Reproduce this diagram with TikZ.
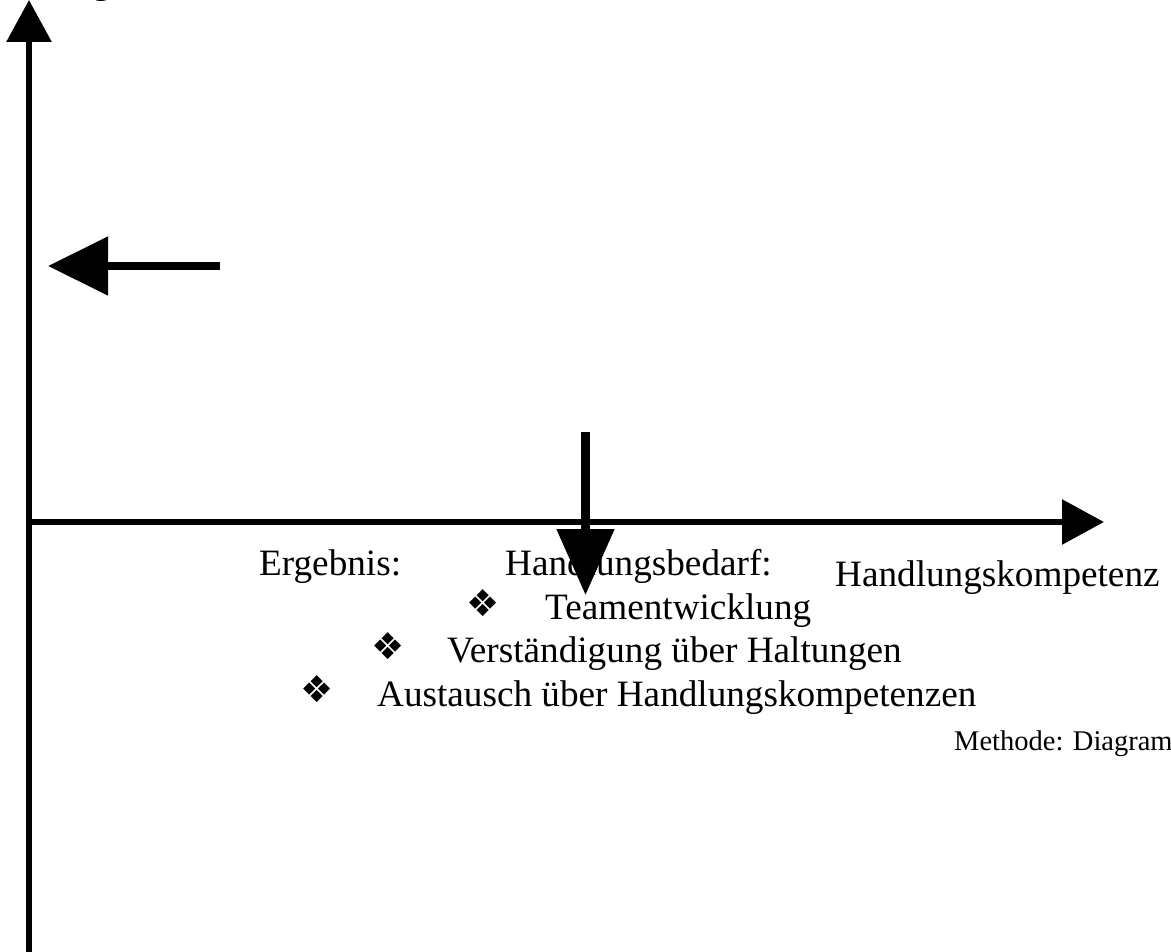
\documentclass[tikz,border=0pt]{standalone}
\usepackage{fontspec}
\setmainfont{Liberation Serif}
\newfontfamily\symfont{DejaVu Sans}
\usetikzlibrary{arrows.meta}
\begin{document}
\begin{tikzpicture}[x=1pt,y=-1pt,
  lbl/.style={anchor=base west,inner sep=0pt,font=\fontsize{37.2}{40}\selectfont},
  small/.style={anchor=base west,inner sep=0pt,font=\fontsize{28.5}{32}\selectfont},
  bul/.style={inner sep=0pt,font=\symfont\fontsize{37}{40}\selectfont},
  axis/.style={line width=6pt,-{Triangle[length=42pt,width=44pt]}},
  bigarrow/.style={line width=8.5pt,-{Triangle[length=60pt,width=57pt]}}]
\useasboundingbox (0,0) rectangle (1171,952);
% coordinates
\coordinate (yb) at (29,952);
\coordinate (yt) at (29,0);
\coordinate (o) at (29,522);
\coordinate (xr) at (1104,522);
\coordinate (ls) at (220,266);
\coordinate (le) at (48,266);
\coordinate (ds) at (585.5,432);
\coordinate (de) at (585.5,595);
% texts
\node[lbl] (topg) at (92,-6.5) {g};
\node[lbl] (erg) at (259,575) {Ergebnis:};
\node[lbl] (hb) at (505,575) {Handlungsbedarf:};
\node[lbl] (hk) at (835,586) {Handlungskompetenz};
\node[lbl] (t1) at (545,619) {Teamentwicklung};
\node[lbl] (t2) at (447,662) {Verständigung über Haltungen};
\node[lbl] (t3) at (377,706) {Austausch über Handlungskompetenzen};
\node[bul] (b1) at (483.5,603) {❖};
\node[bul] (b2) at (388,646.5) {❖};
\node[bul] (b3) at (317.5,689.5) {❖};
\node[small] (meth) at (954,750) {Methode: Diagramm};
% axes and arrows
\draw[axis] (yb) -- (yt);
\draw[axis] (o) -- (xr);
\draw[bigarrow] (ls) -- (le);
\draw[bigarrow,-{Triangle[length=66pt,width=56pt]}] (ds) -- (de);
\end{tikzpicture}
\end{document}
